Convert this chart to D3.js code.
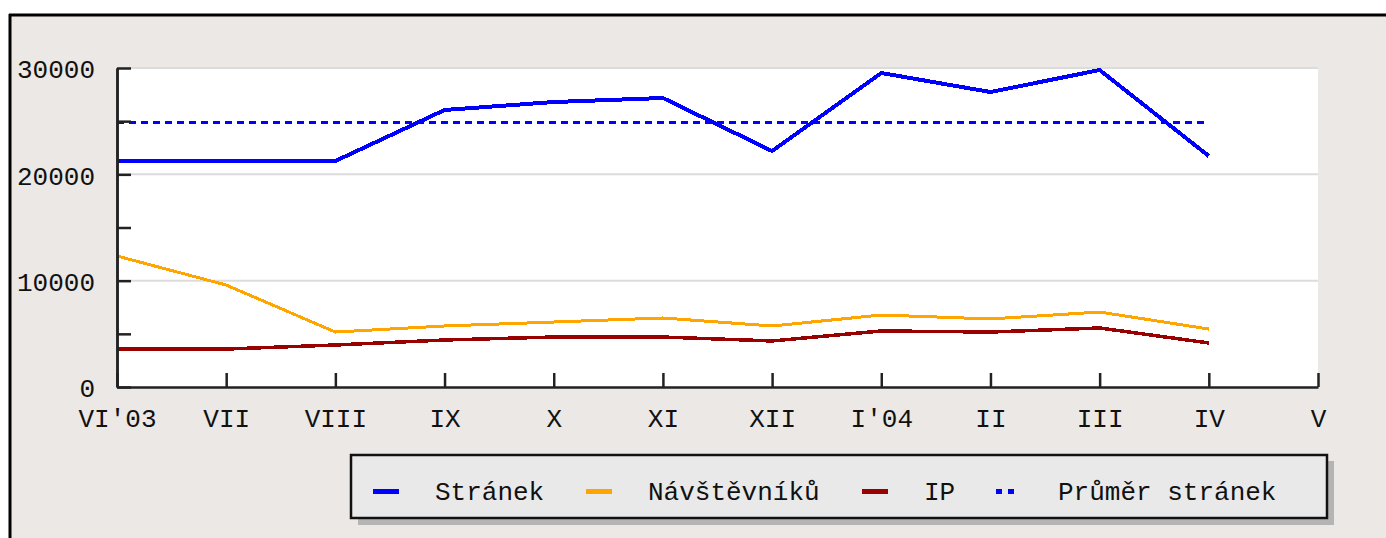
<!DOCTYPE html>
<html>
<head>
<meta charset="utf-8">
<script src="https://cdn.jsdelivr.net/npm/d3@7"></script>
<style>
  html, body { margin: 0; padding: 0; background: #fff; }
  svg { display: block; }
  text { font-family: "Liberation Mono", "DejaVu Sans Mono", monospace; fill: #111; }
</style>
</head>
<body>
<div id="container"></div>
<script>
// month labels on the x axis (last one has no data)
var months = ["VI\u203203", "VII", "VIII", "IX", "X", "XI", "XII", "I\u203204", "II", "III", "IV", "V"];
// page views
var stranek = [21250, 21250, 21250, 26050, 26800, 27180, 22190, 29530, 27740, 29810, 21720];
// visitors
var navstevniku = [12320, 9590, 5170, 5740, 6110, 6490, 5740, 6770, 6400, 7050, 5450];
// unique IPs
var ip = [3570, 3570, 3950, 4420, 4700, 4700, 4330, 5270, 5170, 5550, 4140];
// average page views
var prumer = 24830;
var yMajor = [0, 10000, 20000, 30000];
var yMinor = [5000, 15000, 25000];
var legendNames = ["Str\u00e1nek", "N\u00e1v\u0161t\u011bvn\u00edk\u016f", "IP", "Pr\u016fm\u011br str\u00e1nek"];

var W = 1386, H = 538;
var plotLeft = 117, plotRight = 1318, plotTop = 68, plotBottom = 387;

var svg = d3.select("#container").append("svg")
    .attr("width", W)
    .attr("height", H);

// outer frame
svg.append("rect").attr("x", 0).attr("y", 0).attr("width", W).attr("height", H).attr("fill", "#fff");
svg.append("rect").attr("x", 10).attr("y", 15).attr("width", W - 10).attr("height", H - 15)
    .attr("fill", "#ebe8e6");
svg.append("line").attr("x1", 9).attr("x2", W).attr("y1", 15).attr("y2", 15)
    .attr("stroke", "#000").attr("stroke-width", 3);
svg.append("line").attr("x1", 10).attr("x2", 10).attr("y1", 14).attr("y2", H)
    .attr("stroke", "#000").attr("stroke-width", 3);

var x = d3.scaleLinear().domain([0, months.length - 1]).range([plotLeft, plotRight]);
var y = d3.scaleLinear().domain([0, 30000]).range([plotBottom, plotTop]);

// plot background
svg.append("rect")
    .attr("x", plotLeft).attr("y", plotTop)
    .attr("width", plotRight - plotLeft).attr("height", plotBottom - plotTop)
    .attr("fill", "#fff");

// grid lines
svg.append("g").selectAll("line")
    .data(yMajor.filter(function (d) { return d > 0; }))
    .enter().append("line")
    .attr("x1", plotLeft).attr("x2", plotRight)
    .attr("y1", function (d) { return y(d); })
    .attr("y2", function (d) { return y(d); })
    .attr("stroke", "#dcdcdc").attr("stroke-width", 2);

// average (dashed)
svg.append("line")
    .attr("x1", x(0)).attr("x2", x(stranek.length - 1))
    .attr("y1", y(prumer)).attr("y2", y(prumer))
    .attr("stroke", "#0000ff").attr("stroke-width", 3)
    .attr("stroke-dasharray", "7,5")
    .style("shape-rendering", "crispEdges");

var line = d3.line()
    .x(function (d, i) { return x(i); })
    .y(function (d) { return y(d); });

var series = [
    { vals: ip, color: "#990000", w: 3.5 },
    { vals: navstevniku, color: "#ffa500", w: 3 },
    { vals: stranek, color: "#0000ff", w: 4 }
];
series.forEach(function (s) {
    svg.append("path")
        .datum(s.vals)
        .attr("d", line)
        .attr("fill", "none")
        .attr("stroke", s.color)
        .attr("stroke-width", s.w)
        .style("shape-rendering", "crispEdges");
});

// y axis: minor ticks, then major ticks with labels
var yMinorAxis = svg.append("g")
    .attr("transform", "translate(" + plotLeft + ",0)")
    .call(d3.axisLeft(y).tickValues(yMinor).tickSizeInner(-14).tickSizeOuter(0).tickFormat(""));
var yAxis = svg.append("g")
    .attr("transform", "translate(" + plotLeft + ",0)")
    .call(d3.axisLeft(y).tickValues(yMajor).tickSizeInner(-14).tickSizeOuter(0).tickPadding(22)
        .tickFormat(d3.format("d")));

// x axis
var xAxis = svg.append("g")
    .attr("transform", "translate(0," + plotBottom + ")")
    .call(d3.axisBottom(x).tickValues(d3.range(months.length)).tickSizeInner(-14).tickSizeOuter(0)
        .tickFormat(function (i) { return months[i]; }));
xAxis.selectAll("text").attr("y", 22);

[yMinorAxis, yAxis, xAxis].forEach(function (g) {
    g.select(".domain").attr("stroke", "#222").attr("stroke-width", 2.5);
    g.selectAll(".tick line").attr("stroke", "#222").attr("stroke-width", 2.5);
    g.selectAll("text")
        .style("font-family", "'Liberation Mono', 'DejaVu Sans Mono', monospace")
        .style("font-size", "26px")
        .attr("fill", "#111");
});
yAxis.selectAll("text").attr("dy", "0.38em");

// legend
var lg = svg.append("g");
lg.append("rect").attr("x", 358).attr("y", 461).attr("width", 976).attr("height", 64).attr("fill", "#b4b4b4");
lg.append("rect").attr("x", 351).attr("y", 455).attr("width", 976).attr("height", 63)
    .attr("fill", "#e9e9e9").attr("stroke", "#111").attr("stroke-width", 2.5);

var legendX = [373, 586, 862, 996];
var legendColors = ["#0000ff", "#ffa500", "#990000", "#0000ff"];
legendNames.forEach(function (name, i) {
    if (i < 3) {
        lg.append("rect").attr("x", legendX[i]).attr("y", 489).attr("width", 26).attr("height", 5)
            .attr("fill", legendColors[i]);
    } else {
        lg.append("rect").attr("x", legendX[i]).attr("y", 489).attr("width", 6).attr("height", 5).attr("fill", legendColors[i]);
        lg.append("rect").attr("x", legendX[i] + 12).attr("y", 489).attr("width", 6).attr("height", 5).attr("fill", legendColors[i]);
    }
    lg.append("text")
        .attr("x", legendX[i] + 62)
        .attr("y", 500)
        .style("font-size", "26px")
        .text(name);
});
</script>
</body>
</html>
